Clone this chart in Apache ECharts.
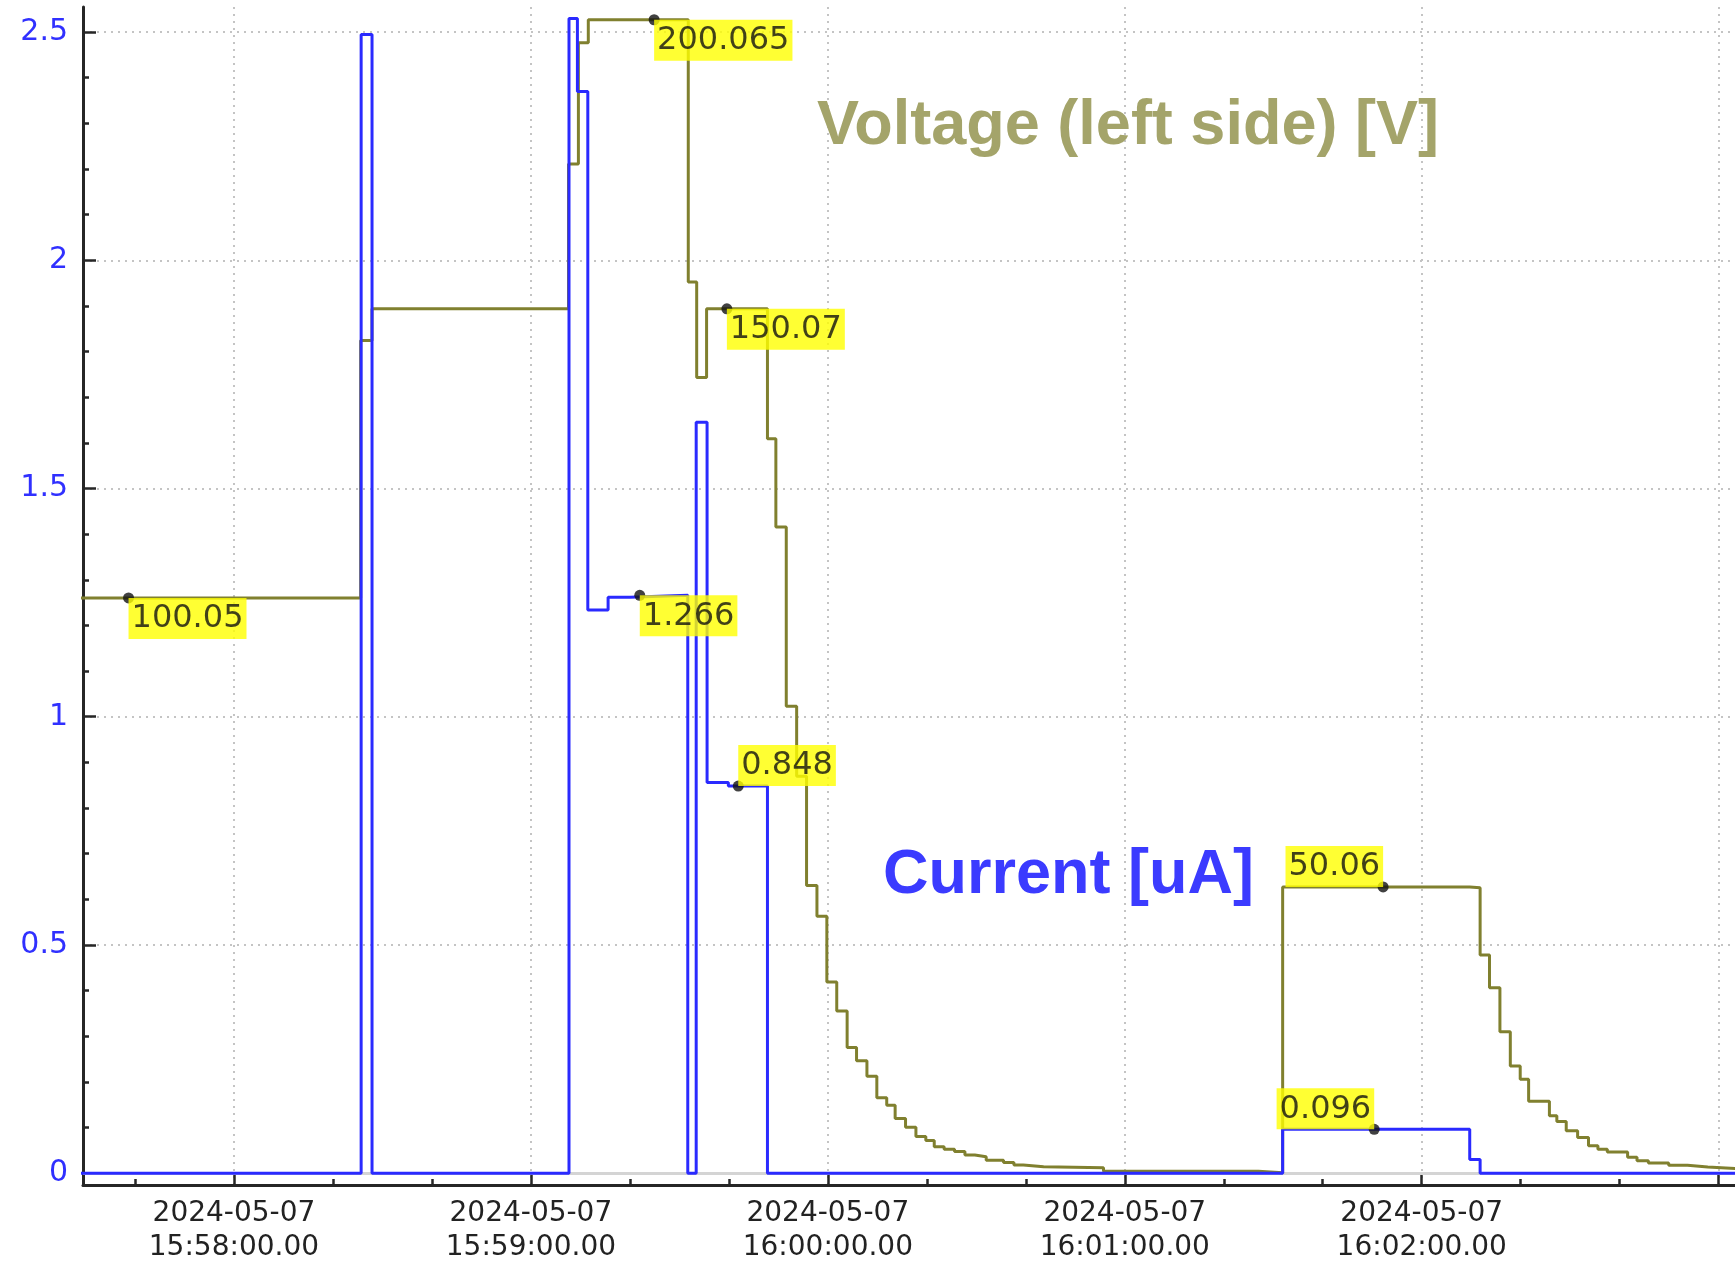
<!DOCTYPE html>
<html>
<head>
<meta charset="utf-8">
<script src="https://cdn.jsdelivr.net/npm/echarts@6/dist/echarts.min.js"></script>
<style>
html,body{margin:0;padding:0;background:#ffffff;}
#chart{width:1735px;height:1265px;}
</style>
</head>
<body>
<div id="chart"></div>
<script>
// ---------- data ----------
const DATE_LABEL = '2024-05-07';

// Current [uA], step series: value holds from its time until the next time
const currentTimes = ['15:57:29.0','15:58:25.7','15:58:27.9','15:59:07.7','15:59:09.4','15:59:11.5','15:59:15.6','15:59:20.0','15:59:31.7','15:59:33.4','15:59:35.6','15:59:39.9','15:59:47.8','16:01:31.9','16:02:09.7','16:02:11.8','16:03:05.0'];
const currentValues = [0, 2.495, 0, 2.53, 2.37, 1.234, 1.262, 1.266, 0, 1.645, 0.856, 0.848, 0, 0.096, 0.030, 0, 0];

// Voltage [V], step series
const voltageTimes = ['15:57:29.0','15:58:25.6','15:58:27.9','15:59:07.6','15:59:09.6','15:59:11.6','15:59:31.8','15:59:33.5','15:59:35.5','15:59:47.8','15:59:49.5','15:59:51.6','15:59:53.7','15:59:55.7','15:59:57.8','15:59:59.8','16:00:01.8','16:00:03.9','16:00:05.8','16:00:07.9','16:00:09.9','16:00:11.9','16:00:13.6','16:00:15.7','16:00:17.8','16:00:19.8','16:00:21.5','16:00:23.5','16:00:25.6','16:00:27.7','16:00:29.7','16:00:32.0','16:00:35.5','16:00:37.6','16:00:39.5','16:00:43.6','16:00:55.7','16:01:27.0','16:01:31.9','16:02:09.7','16:02:11.8','16:02:13.7','16:02:15.8','16:02:17.9','16:02:19.9','16:02:21.6','16:02:25.8','16:02:27.3','16:02:29.2','16:02:31.5','16:02:33.7','16:02:35.6','16:02:37.5','16:02:41.6','16:02:43.5','16:02:45.8','16:02:49.9','16:02:53.7','16:02:57.8','16:03:05.0'];
const voltageValues = [100.05, 144.6, 150.07, 175.1, 196.1, 200.065, 154.7, 138.2, 150.07, 127.6, 112.3, 81.3, 69.2, 50.3, 45.0, 33.6, 28.6, 22.3, 20.0, 17.3, 13.6, 12.3, 10.0, 8.5, 6.9, 6.2, 5.1, 4.7, 4.3, 3.7, 3.4, 2.8, 2.4, 1.97, 1.66, 1.5, 0.87, 0.6, 50.06, 49.9, 38.3, 32.6, 25.0, 19.1, 16.8, 13.0, 10.5, 9.5, 7.9, 6.7, 5.3, 4.7, 4.2, 3.3, 2.7, 2.3, 1.9, 1.6, 1.3, 1.3];

// Highlighted readings
const voltageMarkerTimes = ['15:57:38.7','15:59:24.9','15:59:39.6','16:01:52.2'];
const voltageMarkerValues = [100.05, 200.065, 150.07, 50.06];
const currentMarkerTimes = ['15:59:22.0','15:59:41.9','16:01:50.4'];
const currentMarkerValues = [1.266, 0.848, 0.096];

// Axis ticks
const yMajorTicks = [0, 0.5, 1, 1.5, 2, 2.5];
const yMinorTicks = [0.1,0.2,0.3,0.4,0.6,0.7,0.8,0.9,1.1,1.2,1.3,1.4,1.6,1.7,1.8,1.9,2.1,2.2,2.3,2.4];
const xMajorTicks = ['15:58:00','15:59:00','16:00:00','16:01:00','16:02:00','16:03:00'];
const xLabelTicks = ['15:58:00','15:59:00','16:00:00','16:01:00','16:02:00'];
const xMinorTicks = ['15:57:40','15:58:20','15:58:40','15:59:20','15:59:40','16:00:20','16:00:40','16:01:20','16:01:40','16:02:20','16:02:40'];

const xStart = '15:57:29.5';
const xEnd = '16:03:03.3';

// ---------- helpers ----------
function toSec(s) {
  const p = s.split(':');
  return (+p[0]) * 3600 + (+p[1]) * 60 + parseFloat(p[2]);
}
function pad(n) { return (n < 10 ? '0' : '') + n; }
function fmtTime(v) {
  const s = Math.round(v);
  const h = Math.floor(s / 3600), m = Math.floor((s % 3600) / 60), sec = s % 60;
  return DATE_LABEL + '\n' + pad(h) + ':' + pad(m) + ':' + pad(sec) + '.00';
}
function pairs(ts, vs) { return ts.map((t, i) => [toSec(t), vs[i]]); }

const Y_MIN = -0.026, Y_MAX = 2.555;
const V_MIN = -1.5, V_MAX = 202.27;

const OLIVE = '#80802f';
const BLUE = '#2a2aff';
const AXIS_COLOR = '#262626';
const FONT = 'DejaVu Sans';

const labelBase = {
  show: true,
  fontFamily: FONT,
  fontSize: 32,
  color: '#111111',
  backgroundColor: '#ffff00',
  padding: [5, 3, 4, 3],
  formatter: p => String(p.value[1])
};
const SYM = 11;
const C = SYM / 2;
function anchored(pt, corner) {
  // corner: which corner of the label box sits on the point
  const map = {
    tl: { align: 'left', verticalAlign: 'top' },
    bl: { align: 'left', verticalAlign: 'bottom' },
    br: { align: 'right', verticalAlign: 'bottom' }
  };
  return { value: pt, label: Object.assign({ position: [C, C] }, map[corner]) };
}

const vMarks = pairs(voltageMarkerTimes, voltageMarkerValues);
const cMarks = pairs(currentMarkerTimes, currentMarkerValues);
const vCorners = ['tl', 'tl', 'tl', 'br'];
const cCorners = ['tl', 'bl', 'br'];

const chart = echarts.init(document.getElementById('chart'), null, { renderer: 'canvas' });

const option = {
  backgroundColor: '#ffffff',
  animation: false,
  grid: { left: 83, right: 0, top: 7, bottom: 76, containLabel: false },
  xAxis: [
    {
      type: 'value',
      min: toSec(xStart), max: toSec(xEnd),
      position: 'bottom',
      axisLine: { show: true, onZero: false, lineStyle: { color: AXIS_COLOR, width: 3 } },
      axisTick: { show: true, inside: true, length: 12, customValues: xMajorTicks.map(toSec), lineStyle: { color: AXIS_COLOR, width: 2.5 } },
      axisLabel: {
        show: true, customValues: xLabelTicks.map(toSec), formatter: fmtTime,
        fontFamily: FONT, fontSize: 28, lineHeight: 34, color: '#222222', margin: 12
      },
      splitLine: { show: true, lineStyle: { color: '#c4c4c4', width: 2, type: [2, 5] } }
    },
    {
      type: 'value',
      min: toSec(xStart), max: toSec(xEnd),
      position: 'bottom',
      axisLine: { show: false, onZero: false },
      axisTick: { show: true, inside: true, length: 6, customValues: xMinorTicks.map(toSec), lineStyle: { color: AXIS_COLOR, width: 2.5 } },
      axisLabel: { show: false },
      splitLine: { show: false }
    }
  ],
  yAxis: [
    {
      type: 'value',
      min: Y_MIN, max: Y_MAX,
      position: 'left',
      axisLine: { show: true, onZero: false, lineStyle: { color: AXIS_COLOR, width: 3 } },
      axisTick: { show: true, inside: true, length: 13, customValues: yMajorTicks, lineStyle: { color: AXIS_COLOR, width: 2.5 } },
      axisLabel: {
        show: true, customValues: yMajorTicks, formatter: v => String(v),
        fontFamily: FONT, fontSize: 30, color: '#3030ff', margin: 15
      },
      splitLine: { show: true, lineStyle: { color: '#c4c4c4', width: 2, type: [2, 5] } }
    },
    {
      type: 'value',
      min: Y_MIN, max: Y_MAX,
      position: 'left',
      axisLine: { show: false, onZero: false },
      axisTick: { show: true, inside: true, length: 6, customValues: yMinorTicks, lineStyle: { color: AXIS_COLOR, width: 2.5 } },
      axisLabel: { show: false },
      splitLine: { show: false }
    },
    {
      type: 'value',
      min: V_MIN, max: V_MAX,
      position: 'right',
      show: false
    }
  ],
  series: [
    {
      name: 'Voltage',
      type: 'line',
      xAxisIndex: 0, yAxisIndex: 2,
      step: 'end',
      showSymbol: false,
      z: 3,
      lineStyle: { color: OLIVE, width: 3 },
      data: pairs(voltageTimes, voltageValues)
    },
    {
      name: 'Current',
      type: 'line',
      xAxisIndex: 0, yAxisIndex: 0,
      step: 'end',
      showSymbol: false,
      z: 4,
      lineStyle: { color: BLUE, width: 3 },
      data: pairs(currentTimes, currentValues),
      markLine: {
        silent: true, symbol: 'none', z: 1,
        label: { show: false },
        lineStyle: { color: '#d4d4d4', width: 3, type: 'solid' },
        data: [{ yAxis: 0 }]
      }
    },
    {
      name: 'Voltage readings',
      type: 'scatter',
      xAxisIndex: 0, yAxisIndex: 2,
      symbol: 'circle', symbolSize: SYM,
      itemStyle: { color: '#111111' },
      z: 10,
      label: labelBase,
      data: vMarks.map((p, i) => anchored(p, vCorners[i]))
    },
    {
      name: 'Current readings',
      type: 'scatter',
      xAxisIndex: 0, yAxisIndex: 0,
      symbol: 'circle', symbolSize: SYM,
      itemStyle: { color: '#111111' },
      z: 10,
      label: labelBase,
      data: cMarks.map((p, i) => anchored(p, cCorners[i]))
    }
  ],
  graphic: [
    {
      type: 'text', x: 817, y: 127, z: 20,
      style: {
        text: 'Voltage (left side) [V]',
        font: 'bold 63px "Liberation Sans", Arial, sans-serif',
        fill: '#a4a46a', align: 'left', verticalAlign: 'middle',
        textAlign: 'left', textVerticalAlign: 'middle'
      }
    },
    {
      type: 'text', x: 883, y: 876, z: 20,
      style: {
        text: 'Current [uA]',
        font: 'bold 63px "Liberation Sans", Arial, sans-serif',
        fill: '#3b3bff', align: 'left', verticalAlign: 'middle',
        textAlign: 'left', textVerticalAlign: 'middle'
      }
    }
  ]
};

chart.setOption(option);
</script>
</body>
</html>
